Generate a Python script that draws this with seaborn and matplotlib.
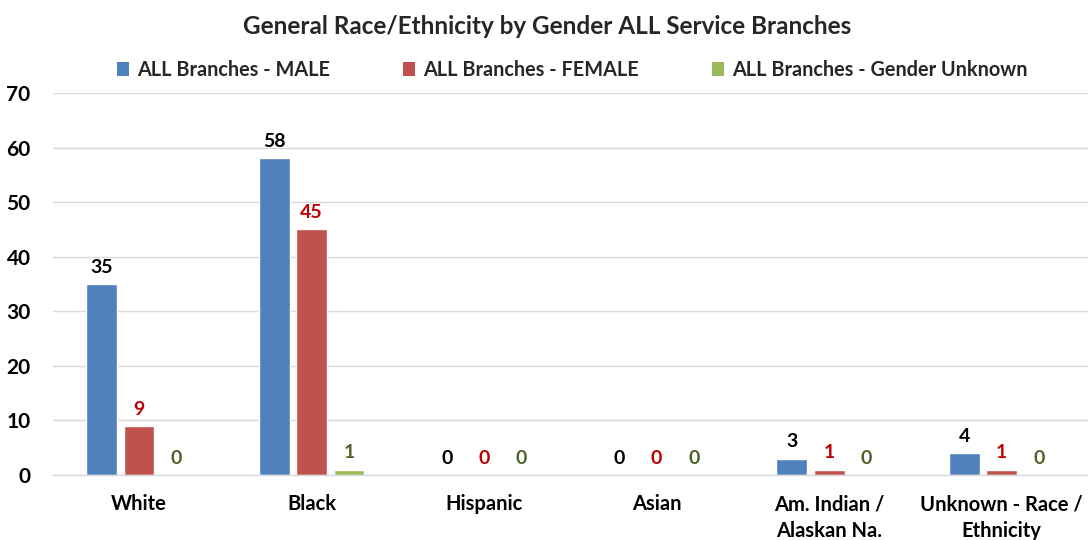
import matplotlib
matplotlib.use("Agg")
import matplotlib.pyplot as plt
from matplotlib.patches import Patch
import seaborn as sns
import pandas as pd

categories = ["White", "Black", "Hispanic", "Asian",
              "Am. Indian /\nAlaskan Na.", "Unknown - Race /\nEthnicity"]
series_names = ["ALL Branches - MALE", "ALL Branches - FEMALE",
                "ALL Branches - Gender Unknown"]
male = [35, 58, 0, 0, 3, 4]
female = [9, 45, 0, 0, 1, 1]
unknown = [0, 1, 0, 0, 0, 0]

bar_colors = ["#4F81BD", "#C0504D", "#9BBB59"]
label_colors = ["#000000", "#C00000", "#4F6228"]

rows = []
for name, vals in zip(series_names, [male, female, unknown]):
    for cat, v in zip(categories, vals):
        rows.append({"category": cat, "series": name, "value": v})
df = pd.DataFrame(rows)

sns.set_theme(style="white")
plt.rcParams["font.family"] = ["Lato", "DejaVu Sans"]
plt.rcParams["font.weight"] = "bold"

fig = plt.figure(figsize=(10.88, 5.4), dpi=100)
ax = fig.add_axes([0.0485, 0.1204, 0.9515, 0.7074])

sns.barplot(data=df, x="category", y="value", hue="series",
            order=categories, hue_order=series_names,
            palette=bar_colors, width=0.65, gap=0.18,
            saturation=1, legend=False, ax=ax)

ax.set_ylim(0, 70)
ax.set_yticks(range(0, 71, 10))
ax.set_xlim(-0.5, len(categories) - 0.5)
ax.yaxis.grid(True, color="#D9D9D9", linewidth=1)
ax.set_axisbelow(True)
for s in ["top", "right", "left"]:
    ax.spines[s].set_visible(False)
ax.spines["bottom"].set_color("#D9D9D9")
ax.spines["bottom"].set_linewidth(1)
ax.tick_params(axis="y", length=0, labelsize=15, pad=16)
ax.tick_params(axis="x", length=0, labelsize=14.5, pad=14)
for lbl in ax.get_xticklabels():
    lbl.set_fontweight("bold")
    lbl.set_color("#000000")
    lbl.set_linespacing(1.4)
for lbl in ax.get_yticklabels():
    lbl.set_fontweight("bold")
    lbl.set_color("#000000")
ax.set_xlabel("")
ax.set_ylabel("")

for container, col in zip(ax.containers, label_colors):
    ax.bar_label(container, labels=[f"{int(b.get_height())}" for b in container],
                 padding=6, color=col, fontsize=14, fontweight="bold")

handles = [Patch(facecolor=c, edgecolor="none") for c in bar_colors]
fig.legend(handles, series_names, loc="center", bbox_to_anchor=(0.526, 0.87),
           ncol=3, frameon=False, handlelength=0.6,
           handleheight=0.7, handletextpad=0.4, columnspacing=3.7,
           prop={"weight": "bold", "size": 14.3})

fig.suptitle("General Race/Ethnicity by Gender ALL Service Branches",
             x=0.503, y=0.972, fontsize=17.5, fontweight="bold")

fig.savefig("out.png", dpi=100)
